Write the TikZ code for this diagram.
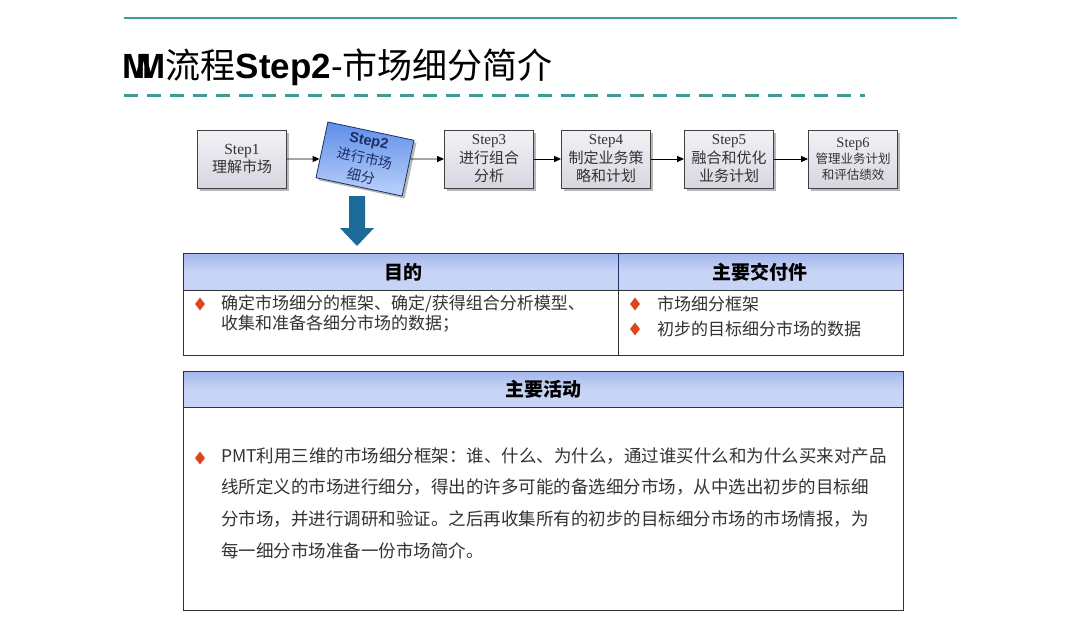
\documentclass[tikz,border=0pt]{standalone}
\usepackage{fontspec}
\setmainfont{Noto Sans CJK SC}
\newfontfamily\stepfont{Liberation Serif}
\newfontfamily\latinsans{Liberation Sans}
\usetikzlibrary{shapes.geometric,shadows,arrows.meta}
\definecolor{teal1}{HTML}{3C9C96}
\definecolor{stepTop}{HTML}{F2F2F6}
\definecolor{stepBot}{HTML}{D6D6E0}
\definecolor{blueA}{HTML}{5E8EE8}
\definecolor{blueB}{HTML}{BCD2FA}
\definecolor{navy}{HTML}{1E2E66}
\definecolor{hdrA}{HTML}{A2B6EC}
\definecolor{hdrB}{HTML}{C8D4F6}
\definecolor{arrowblue}{HTML}{1C6A98}
\definecolor{bulletred}{HTML}{E0441A}
\definecolor{bodytext}{HTML}{333333}
\tikzset{
  stepbox/.style={draw=black!75, line width=0.8pt, top color=stepTop, bottom color=stepBot,
    minimum width=89pt, minimum height=58pt, inner sep=0pt, align=center,
    drop shadow={shadow xshift=2.5pt, shadow yshift=-2.5pt, fill=black!55},
    font=\fontsize{15}{18.5}\selectfont, text=black!80},
  stepboxB/.style={draw=navy, line width=0.8pt, top color=blueA, bottom color=blueB,
    minimum width=88pt, minimum height=57pt, inner sep=0pt, align=center,
    drop shadow={shadow xshift=2.5pt, shadow yshift=-2.5pt, fill=black!55},
    font=\fontsize{14}{18.5}\selectfont, text=navy},
  arr/.style={-{Triangle[length=7pt,width=6pt]}, line width=0.9pt, black},
  hdrtext/.style={font=\fontsize{19}{22}\selectfont\bfseries, text=black},
  bodytxt/.style={anchor=west, align=left, text=bodytext, inner sep=0pt},
  bullet/.style={diamond, fill=bulletred, minimum width=10pt, minimum height=13pt, inner sep=0pt},
  hdrshade/.style={top color=hdrA, bottom color=hdrB, middle color=hdrB},
}
\begin{document}
\begin{tikzpicture}[x=1pt,y=-1pt]
\useasboundingbox (0,0) rectangle (1080,630);
\fill[white] (0,0) rectangle (1080,630);
% top rule
\draw[teal1, line width=1.3pt] (124,18) -- (957,18);
% title
\node[anchor=base west, inner sep=0pt, font=\fontsize{35}{40}\selectfont] (title) at (122,78)
  {{\latinsans\bfseries M\kern-0.42em M}流程{\latinsans\bfseries Step2}{\latinsans -}市场细分简介};
\draw[teal1, line width=3pt, dash pattern=on 14pt off 9pt] (124,95) -- (865,95);

% steps
\node[stepbox] (s1) at (242,159) {{\stepfont\fontsize{15.5}{18}\selectfont Step1}\\理解市场};
\node[stepboxB, rotate=-12] (s2) at (365,159) {{\latinsans\bfseries\fontsize{14.5}{18}\selectfont Step2}\\进行市场\\细分};
\node[stepbox] (s3) at (489,159) {{\stepfont Step3}\\进行组合\\分析};
\node[stepbox] (s4) at (606,159) {{\stepfont Step4}\\制定业务策\\略和计划};
\node[stepbox] (s5) at (729,159) {{\stepfont Step5}\\融合和优化\\业务计划};
\node[stepbox, font=\fontsize{12.5}{16}\selectfont] (s6) at (853,159) {{\stepfont\fontsize{14.5}{16}\selectfont Step6}\\管理业务计划\\和评估绩效};
\draw[arr] (s1) -- (s2);
\draw[arr] (s2) -- (s3);
\draw[arr] (s3) -- (s4);
\draw[arr] (s4) -- (s5);
\draw[arr] (s5) -- (s6);

% block down arrow
\fill[arrowblue] (349,196) -- (365,196) -- (365,228) -- (374,228) -- (357,246) -- (340,228) -- (349,228) -- cycle;

% table 1
\shade[hdrshade] (183,253) rectangle (903,290);
\draw[navy, line width=0.9pt] (183,253) rectangle (903,290);
\draw[black!80, line width=0.8pt] (183,290) rectangle (903,355);
\draw[navy, line width=0.9pt] (618,253) -- (618,290);
\draw[black!80, line width=0.8pt] (618,290) -- (618,355);
\node[hdrtext] (h1) at (403,272) {目的};
\node[hdrtext] (h2) at (760,272) {主要交付件};
\node[bullet] (b1) at (200,304) {};
\node[bodytxt, font=\fontsize{17}{20}\selectfont, anchor=north west] (t1) at (221,295)
  {确定市场细分的框架、确定/获得组合分析模型、\\收集和准备各细分市场的数据；};
\node[bullet] (b2) at (635,304) {};
\node[bodytxt, font=\fontsize{17}{20}\selectfont] (t2) at (657,304) {市场细分框架};
\node[bullet] (b3) at (635,329) {};
\node[bodytxt, font=\fontsize{17}{20}\selectfont] (t3) at (657,329) {初步的目标细分市场的数据};

% table 2
\shade[hdrshade] (183,371) rectangle (903,407);
\draw[navy, line width=0.9pt] (183,371) rectangle (903,407);
\draw[black!80, line width=0.8pt] (183,407) rectangle (903,610);
\node[hdrtext] (h3) at (543,389) {主要活动};
\node[bullet] (b4) at (200,458) {};
\node[bodytxt, font=\fontsize{17.5}{31.7}\selectfont, anchor=north west] (t4) at (221,447)
  {PMT利用三维的市场细分框架：谁、什么、为什么，通过谁买什么和为什么买来对产品\\
   线所定义的市场进行细分，得出的许多可能的备选细分市场，从中选出初步的目标细\\
   分市场，并进行调研和验证。之后再收集所有的初步的目标细分市场的市场情报，为\\
   每一细分市场准备一份市场简介。};
\end{tikzpicture}
\end{document}
